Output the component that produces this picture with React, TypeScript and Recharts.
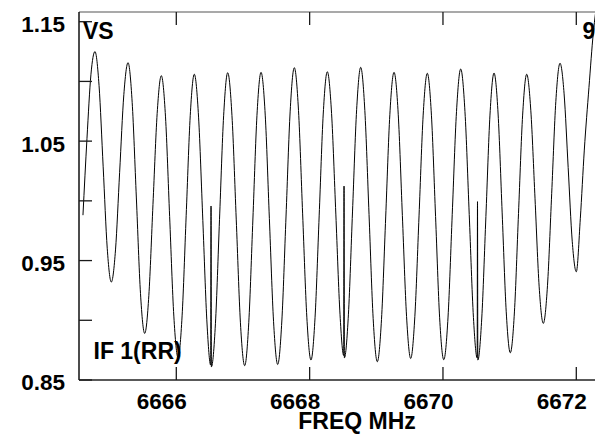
import React from 'react';
import { LineChart, Line, XAxis, YAxis } from 'recharts';

const freqMHz: number[] = [
  6664.600, 6664.660, 6664.720, 6664.780, 6664.841, 6664.903, 6664.964, 6665.025,
  6665.088, 6665.150, 6665.213, 6665.276, 6665.338, 6665.401, 6665.463, 6665.526,
  6665.588, 6665.650, 6665.713, 6665.775, 6665.838, 6665.900, 6665.963, 6666.026,
  6666.087, 6666.148, 6666.209, 6666.270, 6666.334, 6666.398, 6666.461, 6666.516,
  6666.521, 6666.526, 6666.587, 6666.648, 6666.710, 6666.771, 6666.835, 6666.899,
  6666.962, 6667.026, 6667.087, 6667.149, 6667.210, 6667.271, 6667.334, 6667.396,
  6667.459, 6667.521, 6667.583, 6667.646, 6667.708, 6667.770, 6667.833, 6667.895,
  6667.958, 6668.020, 6668.081, 6668.143, 6668.204, 6668.265, 6668.329, 6668.393,
  6668.456, 6668.511, 6668.516, 6668.521, 6668.582, 6668.643, 6668.705, 6668.766,
  6668.828, 6668.891, 6668.953, 6669.015, 6669.078, 6669.141, 6669.203, 6669.266,
  6669.329, 6669.391, 6669.454, 6669.516, 6669.578, 6669.641, 6669.703, 6669.765,
  6669.827, 6669.889, 6669.950, 6670.012, 6670.076, 6670.139, 6670.203, 6670.266,
  6670.330, 6670.394, 6670.457, 6670.513, 6670.518, 6670.523, 6670.582, 6670.644,
  6670.705, 6670.766, 6670.827, 6670.888, 6670.949, 6671.010, 6671.072, 6671.133,
  6671.195, 6671.256, 6671.318, 6671.381, 6671.443, 6671.505, 6671.568, 6671.631,
  6671.693, 6671.756, 6671.817, 6671.878, 6671.939, 6672.000, 6672.060, 6672.120,
  6672.190, 6672.255, 6672.320,
];

const relAmp: number[] = [
  0.988, 1.052, 1.106, 1.125, 1.0967, 1.0285, 0.9603, 0.932,
  0.9589, 1.0239, 1.0889, 1.1157, 1.0825, 1.0024, 0.9223, 0.889,
  0.9206, 0.9969, 1.0732, 1.1048, 1.0703, 0.9869, 0.9035, 0.869,
  0.9037, 0.9875, 1.0713, 1.106, 1.0701, 0.9835, 0.8969, 0.8625,
  0.9957, 0.861, 0.8971, 0.9842, 1.0712, 1.1073, 1.0714, 0.9847,
  0.8979, 0.862, 0.898, 0.9848, 1.0716, 1.1076, 1.0718, 0.9853,
  0.8988, 0.863, 0.8994, 0.9873, 1.0751, 1.1115, 1.0756, 0.9891,
  0.9026, 0.8667, 0.9021, 0.9874, 1.0727, 1.1081, 1.0732, 0.9889,
  0.9046, 0.8705, 1.0124, 0.8685, 0.9051, 0.9907, 1.0763, 1.1118,
  1.0757, 0.9886, 0.9014, 0.8653, 0.9008, 0.9865, 1.0721, 1.1076,
  1.0725, 0.9878, 0.9031, 0.868, 0.903, 0.9874, 1.0718, 1.1068,
  1.0717, 0.9869, 0.9021, 0.867, 0.9027, 0.9887, 1.0747, 1.1104,
  1.0747, 0.9886, 0.9024, 0.8685, 0.9993, 0.8667, 0.9019, 0.9869,
  1.0718, 1.107, 1.0727, 0.9899, 0.9071, 0.8728, 0.907, 0.9894,
  1.0718, 1.106, 1.0754, 1.0017, 0.928, 0.8974, 0.9293, 1.0063,
  1.0833, 1.1152, 1.0896, 1.0279, 0.9662, 0.9406, 0.985, 1.0425,
  1.095, 1.1405, 1.17,
];

const xTicks: number[] = [6666, 6668, 6670, 6672];
const yTicks: number[] = [0.85, 0.9, 0.95, 1.0, 1.05, 1.1, 1.15];
const yTickLabels: string[] = ['0.85', '0.95', '1.05', '1.15'];
const xDomain: [number, number] = [6664.5405, 6672.8805];
const yDomain: [number, number] = [0.85, 1.15812];

const data = freqMHz.map((f, i) => ({ f, v: relAmp[i] }));

const FONT = '"Liberation Sans", Arial, Helvetica, sans-serif';
const TICK_LEN = 13;
const TICK_STROKE = '#1a1a1a';
const TICK_W = 1.3;

const BottomTick = (props: any) => {
  const { x, y, payload } = props;
  const axisY = y - 13;
  return (
    <g>
      <line x1={x} y1={axisY} x2={x} y2={axisY - TICK_LEN} stroke={TICK_STROKE} strokeWidth={TICK_W} />
      <text x={x - 14.5} y={y} dy="0.71em" textAnchor="middle" fontFamily={FONT} fontWeight="bold" fontSize={22.5} fill="#000">
        {String(payload.value)}
      </text>
    </g>
  );
};

const TopTick = (props: any) => {
  const { x, y } = props;
  return <line x1={x} y1={y} x2={x} y2={y + TICK_LEN} stroke={TICK_STROKE} strokeWidth={TICK_W} />;
};

const LeftTick = (props: any) => {
  const { x, y, payload } = props;
  const axisX = x + 14;
  const label = yTickLabels.find((s) => Math.abs(parseFloat(s) - payload.value) < 1e-6) || '';
  return (
    <g>
      <line x1={axisX} y1={y} x2={axisX + TICK_LEN} y2={y} stroke={TICK_STROKE} strokeWidth={TICK_W} />
      <text x={x} y={y + 2.5} dy="0.355em" textAnchor="end" fontFamily={FONT} fontWeight="bold" fontSize={22.5} fill="#000">
        {label}
      </text>
    </g>
  );
};

export default function App() {
  return (
    <div style={{ position: 'absolute', left: 0, top: 0, width: 595, height: 434, overflow: 'hidden', background: '#fff' }}>
      <LineChart width={635} height={434} data={data} margin={{ top: 0, right: 0, bottom: 0, left: 0 }}>
        <XAxis
          xAxisId="top"
          orientation="top"
          type="number"
          dataKey="f"
          domain={xDomain}
          allowDataOverflow
          ticks={xTicks}
          height={12}
          tickSize={0}
          tickMargin={0}
          tickLine={false}
          tick={<TopTick />}
          axisLine={{ stroke: '#555', strokeWidth: 1.2 }}
        />
        <XAxis
          xAxisId="bottom"
          orientation="bottom"
          type="number"
          dataKey="f"
          domain={xDomain}
          allowDataOverflow
          ticks={xTicks}
          height={54}
          tickSize={0}
          tickMargin={13}
          tickLine={false}
          tick={<BottomTick />}
          axisLine={{ stroke: '#222', strokeWidth: 1.3 }}
          label={{ value: 'FREQ MHz', position: 'insideBottom', offset: 5, fontFamily: FONT, fontWeight: 'bold', fontSize: 23, fill: '#000' }}
        />
        <YAxis
          type="number"
          domain={yDomain}
          allowDataOverflow
          ticks={yTicks}
          width={79}
          tickSize={0}
          tickMargin={14}
          tickLine={false}
          tick={<LeftTick />}
          axisLine={{ stroke: '#111', strokeWidth: 1.5 }}
        />
        <Line
          xAxisId="bottom"
          type="monotone"
          dataKey="v"
          stroke="#000"
          strokeWidth={1}
          dot={false}
          isAnimationActive={false}
        />
      </LineChart>
      <svg width={595} height={434} style={{ position: 'absolute', left: 0, top: 0, pointerEvents: 'none' }}>
        <text x={83} y={39} fontFamily={FONT} fontWeight="bold" fontSize={23} fill="#000">VS</text>
        <text x={582.5} y={39} fontFamily={FONT} fontWeight="bold" fontSize={23} fill="#000">9</text>
        <text x={93.5} y={359} fontFamily={FONT} fontWeight="bold" fontSize={23} fill="#000">IF 1(RR)</text>
      </svg>
    </div>
  );
}
